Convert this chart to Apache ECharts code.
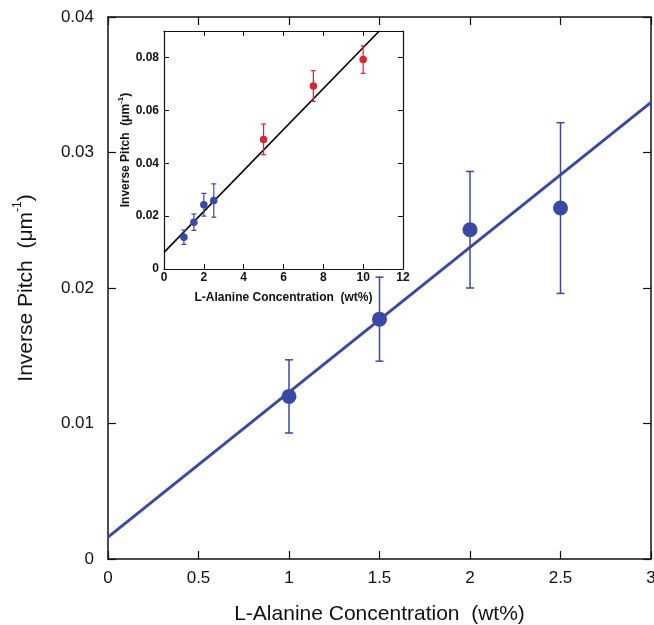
<!DOCTYPE html>
<html><head><meta charset="utf-8">
<script src="https://cdn.jsdelivr.net/npm/echarts@6/dist/echarts.min.js"></script>
<style>html,body{margin:0;padding:0;background:#fff}#c{width:654px;height:625px}</style>
</head><body><div id="c"></div>
<script>
// Main plot data (low-concentration)
const mainX = [1, 1.5, 2, 2.5];
const mainY = [0.0120, 0.0177, 0.0243, 0.0259];
const mainErr = [0.0027, 0.0031, 0.0043, 0.0063];
const mainFit = [[0, 0.00162], [3, 0.0337]];
// Inset: high-concentration points
const redX = [5, 7.5, 10];
const redY = [0.0490, 0.0692, 0.0792];
const redErr = [0.0058, 0.0058, 0.0052];
const insetFit = [[0, 0.0063], [10.81, 0.09]];
// Ticks
const mainXTicks = [0, 0.5, 1, 1.5, 2, 2.5, 3];
const mainYTicks = [0, 0.01, 0.02, 0.03, 0.04];
const insetXTicks = [0, 2, 4, 6, 8, 10, 12];
const insetYTicks = [0, 0.02, 0.04, 0.06, 0.08];

const BLUE = '#3a4aa2', RED = '#e0232b';
const pts = (xs, ys) => xs.map((x, i) => [x, ys[i]]);
const errs = (xs, ys, es) => xs.map((x, i) => [x, ys[i] - es[i], ys[i] + es[i]]);

function errRender(cap, color, w) {
  return function (params, api) {
    const x = api.value(0), lo = api.value(1), hi = api.value(2);
    const p1 = api.coord([x, lo]), p2 = api.coord([x, hi]);
    const st = { stroke: color, lineWidth: w };
    return { type: 'group', children: [
      { type: 'line', shape: { x1: p1[0], y1: p1[1], x2: p2[0], y2: p2[1] }, style: st },
      { type: 'line', shape: { x1: p1[0] - cap, y1: p1[1], x2: p1[0] + cap, y2: p1[1] }, style: st },
      { type: 'line', shape: { x1: p2[0] - cap, y1: p2[1], x2: p2[0] + cap, y2: p2[1] }, style: st }
    ]};
  };
}

const FONT = '"Liberation Sans", Arial, Helvetica, sans-serif';
const mainAxisCommon = {
  axisLine: { show: true, onZero: false, lineStyle: { color: '#111', width: 1.5 } },
  axisTick: { show: true, inside: true, length: 8, lineStyle: { color: '#111', width: 1.2 } },
  splitLine: { show: false }
};
const insetAxisCommon = {
  axisLine: { show: true, onZero: false, lineStyle: { color: '#111', width: 1.2 } },
  axisTick: { show: true, inside: true, length: 5, lineStyle: { color: '#111', width: 1 } },
  splitLine: { show: false }
};

const option = {
  animation: false,
  backgroundColor: '#fff',
  grid: [
    { left: 108, top: 17, width: 543, height: 542, outerBoundsMode: 'none', containLabel: false },
    { left: 164, top: 31, width: 239, height: 238, show: true, backgroundColor: '#fff', borderWidth: 0, outerBoundsMode: 'none', containLabel: false }
  ],
  xAxis: [
    Object.assign({}, mainAxisCommon, { gridIndex: 0, type: 'value', min: 0, max: 3, interval: 0.5, position: 'bottom',
      name: 'L-Alanine Concentration  (wt%)', nameLocation: 'middle', nameGap: 45,
      nameTextStyle: { fontFamily: FONT, fontSize: 21, color: '#111' },
      axisLabel: { fontFamily: FONT, fontSize: 17, color: '#111', margin: 11, formatter: v => String(v) } }),
    Object.assign({}, mainAxisCommon, { gridIndex: 0, type: 'value', min: 0, max: 3, interval: 0.5, position: 'top',
      axisLabel: { show: false } }),
    Object.assign({}, insetAxisCommon, { gridIndex: 1, type: 'value', min: 0, max: 12, interval: 2, position: 'bottom',
      name: 'L-Alanine Concentration  (wt%)', nameLocation: 'middle', nameGap: 23,
      nameTextStyle: { fontFamily: FONT, fontSize: 12, fontWeight: 'bold', color: '#111' },
      axisLabel: { fontFamily: FONT, fontSize: 12, fontWeight: 'bold', color: '#111', margin: 3, formatter: v => String(v) } }),
    Object.assign({}, insetAxisCommon, { gridIndex: 1, type: 'value', min: 0, max: 12, interval: 2, position: 'top',
      axisLabel: { show: false } })
  ],
  yAxis: [
    Object.assign({}, mainAxisCommon, { gridIndex: 0, type: 'value', min: 0, max: 0.04, interval: 0.01, position: 'left',
      name: '{n|Inverse Pitch  (μm}{s|-1}{n|)}', nameLocation: 'middle', nameGap: 71, nameRotate: 90,
      nameTextStyle: { fontFamily: FONT, fontSize: 21, color: '#111',
        rich: { n: { fontFamily: FONT, fontSize: 21, color: '#111', lineHeight: 25, verticalAlign: 'bottom' },
                s: { fontFamily: FONT, fontSize: 12, color: '#111', lineHeight: 25, verticalAlign: 'top', padding: [0, 0, 7, 0] } } },
      axisLabel: { fontFamily: FONT, fontSize: 17, color: '#111', margin: 14, formatter: v => String(v) } }),
    Object.assign({}, mainAxisCommon, { gridIndex: 0, type: 'value', min: 0, max: 0.04, interval: 0.01, position: 'right',
      axisLabel: { show: false } }),
    Object.assign({}, insetAxisCommon, { gridIndex: 1, type: 'value', min: 0, max: 0.09, interval: 0.02, position: 'left',
      name: '{n|Inverse Pitch  (μm}{s|-1}{n|)}', nameLocation: 'middle', nameGap: 27, nameRotate: 90,
      nameTextStyle: { fontFamily: FONT, fontSize: 12, fontWeight: 'bold', color: '#111',
        rich: { n: { fontFamily: FONT, fontSize: 12, fontWeight: 'bold', color: '#111', lineHeight: 15, verticalAlign: 'bottom' },
                s: { fontFamily: FONT, fontSize: 8, fontWeight: 'bold', color: '#111', lineHeight: 15, verticalAlign: 'top', padding: [0, 0, 4, 0] } } },
      axisLabel: { fontFamily: FONT, fontSize: 12, fontWeight: 'bold', color: '#111', margin: 5, showMaxLabel: false,
        formatter: v => (v === 0 ? '0' : (v > 0.085 ? '' : v.toFixed(2))) } }),
    Object.assign({}, insetAxisCommon, { gridIndex: 1, type: 'value', min: 0, max: 0.09, interval: 0.02, position: 'right',
      axisLabel: { show: false } })
  ],
  series: [
    { type: 'line', xAxisIndex: 0, yAxisIndex: 0, data: mainFit, symbol: 'none',
      lineStyle: { color: BLUE, width: 3 }, z: 2 },
    { type: 'custom', xAxisIndex: 0, yAxisIndex: 0, data: errs(mainX, mainY, mainErr),
      renderItem: errRender(4, BLUE, 1.5), z: 3 },
    { type: 'scatter', xAxisIndex: 0, yAxisIndex: 0, data: pts(mainX, mainY), symbolSize: 15,
      itemStyle: { color: BLUE, opacity: 1 }, z: 4 },

    { type: 'line', xAxisIndex: 2, yAxisIndex: 2, data: insetFit, symbol: 'none',
      lineStyle: { color: '#000', width: 1.6 }, z: 12 },
    { type: 'custom', xAxisIndex: 2, yAxisIndex: 2, data: errs(mainX, mainY, mainErr),
      renderItem: errRender(2.5, BLUE, 1.2), z: 13 },
    { type: 'custom', xAxisIndex: 2, yAxisIndex: 2, data: errs(redX, redY, redErr),
      renderItem: errRender(2.5, RED, 1.2), z: 13 },
    { type: 'scatter', xAxisIndex: 2, yAxisIndex: 2, data: pts(mainX, mainY), symbolSize: 7.5,
      itemStyle: { color: BLUE, opacity: 1 }, z: 14 },
    { type: 'scatter', xAxisIndex: 2, yAxisIndex: 2, data: pts(redX, redY), symbolSize: 7.5,
      itemStyle: { color: RED, opacity: 1 }, z: 14 }
  ]
};
const chart = echarts.init(document.getElementById('c'), null, { renderer: 'canvas' });
chart.setOption(option);
</script></body></html>
